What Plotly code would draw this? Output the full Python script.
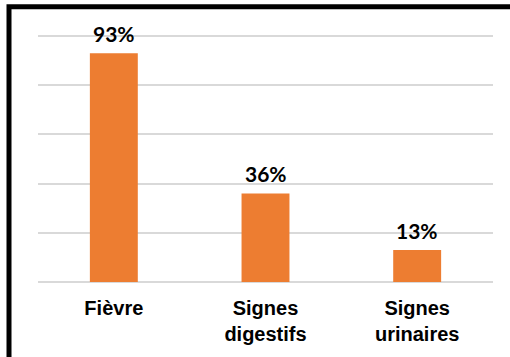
import plotly.graph_objects as go

# Symptom categories and their share of patients
categories = ["Fièvre", "Signes<br>digestifs", "Signes<br>urinaires"]
shares = [0.93, 0.36, 0.13]
labels = ["93%", "36%", "13%"]

W, H = 510, 357
ml, mr, mt, mb = 38, 17, 31, 73
plot_w = W - ml - mr
plot_h = H - mt - mb
y_top = 1.02

bar_color = "#ED7D31"
grid_color = "#D9D9D9"

fig = go.Figure(
    go.Bar(
        x=categories,
        y=shares,
        marker=dict(color=bar_color, line=dict(width=0)),
        width=0.316,
        hoverinfo="skip",
    )
)

# Value labels above each bar
for cat, val, txt in zip(categories, shares, labels):
    fig.add_annotation(
        x=cat, y=val, text=f"<b>{txt}</b>",
        showarrow=False, yanchor="bottom", yshift=5,
        font=dict(family="Lato, Calibri, sans-serif", size=21, color="#000000"),
    )

# Frame on the left and top edges (continues past right/bottom of the canvas)
def px_to_paper_x(px):
    return (px - ml) / plot_w

def px_to_paper_y(py):
    return (H - mb - py) / plot_h

xl = px_to_paper_x(9)
yt = px_to_paper_y(6.5)
fig.add_shape(
    type="path",
    xref="paper", yref="paper",
    path=f"M {xl} {px_to_paper_y(H + 20)} L {xl} {yt} L {px_to_paper_x(W + 20)} {yt}",
    line=dict(color="#000000", width=5),
)

fig.update_layout(
    width=W, height=H,
    margin=dict(l=ml, r=mr, t=mt, b=mb, pad=0),
    paper_bgcolor="#FFFFFF",
    plot_bgcolor="#FFFFFF",
    showlegend=False,
    bargap=0.684,
)
fig.update_xaxes(
    showgrid=False, showline=False, ticks="",
    tickfont=dict(family="Liberation Sans, Arial, sans-serif", size=20, color="#000000", weight="bold"),
    ticklabelstandoff=12,
)
fig.update_yaxes(
    range=[0, y_top], tickvals=[0.2, 0.4, 0.6, 0.8, 1.0], showticklabels=False,
    showgrid=True, gridcolor=grid_color, gridwidth=1.5,
    zeroline=True, zerolinecolor=grid_color, zerolinewidth=1.5,
    showline=False, ticks="",
)

fig.write_html("out.html")
